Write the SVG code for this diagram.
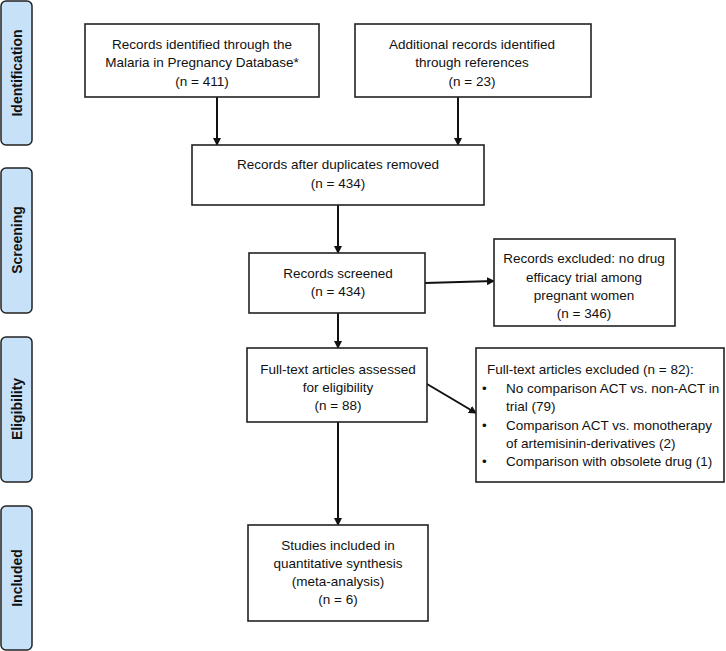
<svg xmlns="http://www.w3.org/2000/svg" width="726" height="651" viewBox="0 0 726 651">
<style>
.lab rect{fill:#c6e1f8;stroke:#222;stroke-width:1.5}
.lab text{font-family:"Liberation Sans",Arial,sans-serif;font-size:14px;font-weight:bold;fill:#111;text-anchor:middle}
.node rect{fill:#fff;stroke:#222;stroke-width:1.6}
.node text{font-family:"Liberation Sans",Arial,sans-serif;font-size:13.5px;fill:#111;text-anchor:middle}
.node text.l{text-anchor:start}
.conn line{stroke:#111;stroke-width:2;marker-end:url(#ah)}
</style>
<defs>
<marker id="ah" markerWidth="8" markerHeight="8" refX="7" refY="4" orient="auto" markerUnits="userSpaceOnUse">
<path d="M0,0 L8,4 L0,8 Z" fill="#111"/>
</marker>
</defs>
<rect width="726" height="651" fill="#fff"/>
<g id="lab-identification" class="lab"><rect x="1" y="1" width="31" height="144" rx="5"/><text transform="translate(22,73) rotate(-90)">Identification</text></g>
<g id="lab-screening" class="lab"><rect x="1" y="168" width="31" height="145" rx="5"/><text transform="translate(22,240) rotate(-90)">Screening</text></g>
<g id="lab-eligibility" class="lab"><rect x="1" y="337" width="31" height="145" rx="5"/><text transform="translate(22,409) rotate(-90)">Eligibility</text></g>
<g id="lab-included" class="lab"><rect x="1" y="506" width="31" height="144" rx="5"/><text transform="translate(22,578) rotate(-90)">Included</text></g>

<g id="connectors" class="conn">
<line x1="217" y1="97" x2="217" y2="145"/>
<line x1="458" y1="97" x2="458" y2="145"/>
<line x1="338" y1="205" x2="338" y2="253"/>
<line x1="338" y1="313" x2="338" y2="348"/>
<line x1="338" y1="422" x2="338" y2="525"/>
<line x1="425" y1="283" x2="494" y2="281"/>
<line x1="427" y1="384" x2="476" y2="413"/>
</g>

<g id="n-database" class="node"><rect x="85" y="24" width="234" height="73"/>
<text x="202" y="49">Records identified through the</text>
<text x="202" y="67">Malaria in Pregnancy Database*</text>
<text x="202" y="86">(n = 411)</text></g>
<g id="n-additional" class="node"><rect x="355" y="24" width="236" height="73"/>
<text x="472" y="49">Additional records identified</text>
<text x="472" y="67">through references</text>
<text x="472" y="86">(n = 23)</text></g>
<g id="n-duplicates" class="node"><rect x="192" y="145" width="292" height="60"/>
<text x="338" y="169">Records after duplicates removed</text>
<text x="338" y="188">(n = 434)</text></g>
<g id="n-screened" class="node"><rect x="249" y="253" width="176" height="60"/>
<text x="338" y="278">Records screened</text>
<text x="338" y="296">(n = 434)</text></g>
<g id="n-excluded" class="node"><rect x="494" y="239" width="181" height="87"/>
<text x="584" y="263">Records excluded: no drug</text>
<text x="584" y="282">efficacy trial among</text>
<text x="584" y="300">pregnant women</text>
<text x="584" y="318">(n = 346)</text></g>
<g id="n-fulltext" class="node"><rect x="247" y="348" width="180" height="74"/>
<text x="338" y="374">Full-text articles assessed</text>
<text x="338" y="392">for eligibility</text>
<text x="338" y="410">(n = 88)</text></g>
<g id="n-ftexcluded" class="node"><rect x="476" y="348" width="248" height="134"/>
<text class="l" x="487" y="374">Full-text articles excluded (n = 82):</text>
<text class="l" x="482" y="393">•</text><text class="l" x="506" y="393">No comparison ACT vs. non-ACT in</text>
<text class="l" x="506" y="411">trial (79)</text>
<text class="l" x="482" y="430">•</text><text class="l" x="506" y="430">Comparison ACT vs. monotherapy</text>
<text class="l" x="506" y="448">of artemisinin-derivatives (2)</text>
<text class="l" x="482" y="466">•</text><text class="l" x="506" y="466">Comparison with obsolete drug (1)</text></g>
<g id="n-included" class="node"><rect x="248" y="525" width="180" height="96"/>
<text x="338" y="550">Studies included in</text>
<text x="338" y="568">quantitative synthesis</text>
<text x="338" y="586">(meta-analysis)</text>
<text x="338" y="604">(n = 6)</text></g>
</svg>
